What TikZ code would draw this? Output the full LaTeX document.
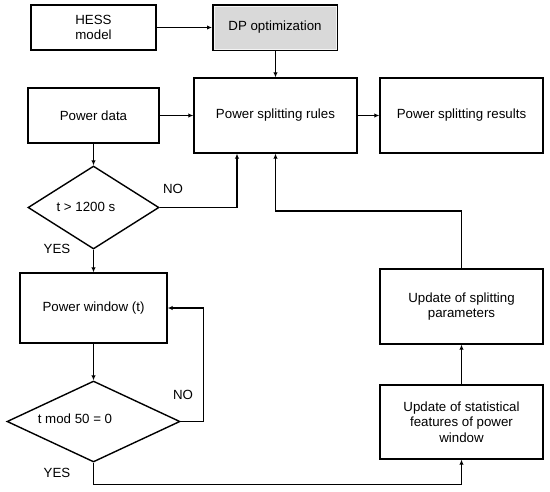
\documentclass[tikz,border=0pt]{standalone}
\usepackage{fontspec}
\setmainfont{Liberation Sans}
\usetikzlibrary{shapes.geometric,arrows.meta}
\definecolor{dpgray}{HTML}{D9D9D9}
\begin{document}
\begin{tikzpicture}[x=1pt,y=-1pt,
  every node/.style={font=\fontsize{13.3}{15.5}\selectfont, inner sep=0pt, align=center},
  box/.style={draw, line width=1.4pt, rectangle},
  dia/.style={draw, line width=1.4pt, diamond},
  arr/.style={line width=1.1pt, -{Latex[length=5pt,width=4.5pt]}},
  ln/.style={line width=1.1pt}]
\useasboundingbox (0,0) rectangle (550,491);
\node[box, minimum width=125pt, minimum height=45pt] (hess) at (93.5,27.5) {HESS\\model};
\node[box, line width=2pt, fill=dpgray, minimum width=124pt, minimum height=45pt] (dp) at (275,27.5) {DP optimization};
\draw[white!70!dpgray, line width=0.9pt] ([shift={(2pt,-2pt)}]dp.north west) rectangle ([shift={(-2pt,2pt)}]dp.south east);
\node[box, minimum width=163pt, minimum height=75pt] (psr) at (275.5,115.5) {Power splitting rules};
\node[box, minimum width=131pt, minimum height=55pt] (pd) at (93.5,115.5) {Power data};
\node[box, minimum width=163pt, minimum height=75pt] (res) at (461.5,115.5) {Power splitting results};
\node[dia, minimum width=131pt, minimum height=83pt, aspect=1.58] (d1) at (93.5,207.5) {};
\node (d1t) at (86,207) {t > 1200 s};
\node[box, minimum width=147pt, minimum height=70pt] (pw) at (93.5,308) {Power window (t)};
\node[dia, minimum width=173pt, minimum height=81pt, aspect=2.13] (d2) at (93.5,421.5) {};
\node (d2t) at (75,419) {t mod 50 = 0};
\node[box, minimum width=163pt, minimum height=75pt] (par) at (461.5,306.5) {Update of splitting\\parameters};
\node[box, minimum width=163pt, minimum height=74pt] (st) at (461.5,422) {Update of statistical\\features of power\\window};
\node (no1) at (173,189) {NO};
\node (yes1) at (57,249) {YES};
\node (no2) at (183,395) {NO};
\node (yes2) at (57,473) {YES};
\coordinate (fb) at (275.5,211);
\coordinate (nor) at (237,207.5);
\draw[arr] (hess.east) -- (dp.west);
\draw[arr] (dp.south) -- (psr.south |- dp.south) -- (psr.north);
\draw[arr] (pd.east) -- (psr.west);
\draw[arr] (psr.east) -- (res.west);
\draw[arr] (pd.south) -- (d1.north);
\draw[arr] (d1.east) -- (nor) -- (nor |- psr.south);
\draw[arr] (d1.south) -- (pw.north);
\draw[arr] (pw.south) -- (d2.north);
\draw[arr] (d2.east) -- ++(23,0) |- (pw.east);
\draw[arr] (d2.south) -- ++(0,22) -| (st.south);
\draw[arr] (st.north) -- (par.south);
\draw[arr] (par.north) |- (fb) -- (fb |- psr.south);
\end{tikzpicture}
\end{document}
